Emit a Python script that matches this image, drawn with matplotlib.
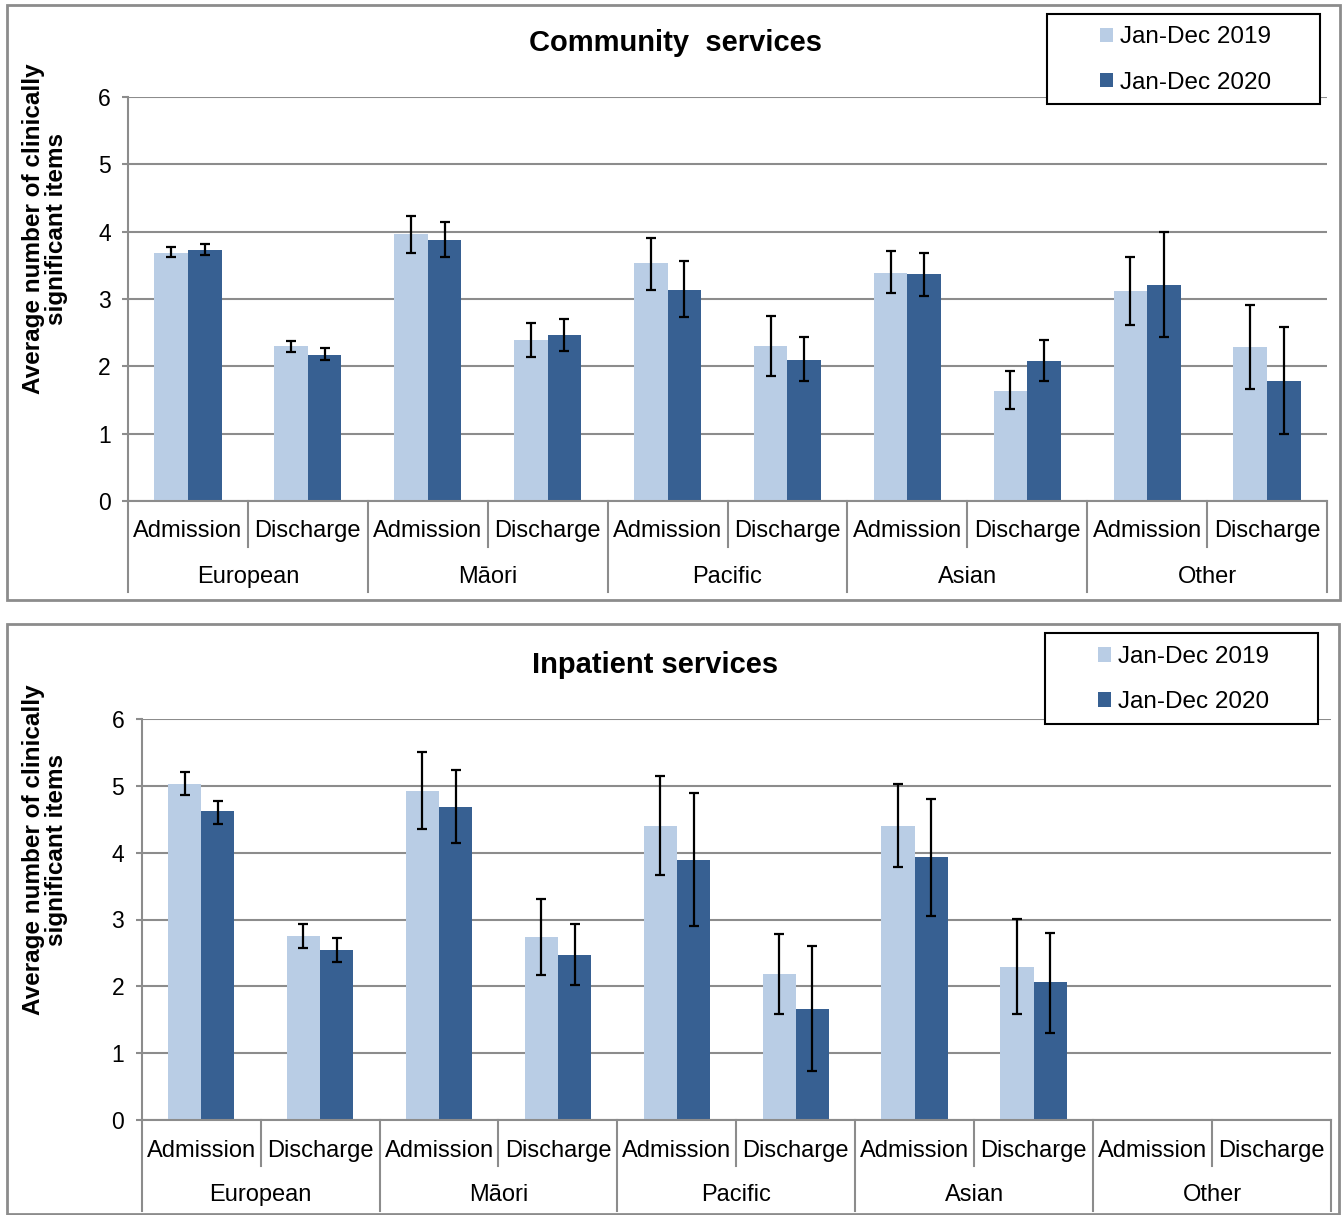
import numpy as np
import matplotlib
matplotlib.use("Agg")
import matplotlib.pyplot as plt
from matplotlib.patches import Rectangle, Patch
from matplotlib.lines import Line2D
from matplotlib import transforms

plt.rcParams['font.family'] = ['Liberation Sans', 'DejaVu Sans']

W, H = 1342, 1215

ethnicities = ["European", "Māori", "Pacific", "Asian", "Other"]
stages = ["Admission", "Discharge"]
series_labels = ["Jan-Dec 2019", "Jan-Dec 2020"]

# Community services: mean and CI bounds, order European Adm/Dis, Māori Adm/Dis ...
community_2019 = [3.69, 2.30, 3.96, 2.39, 3.53, 2.30, 3.39, 1.63, 3.12, 2.28]
community_2019_lo = [3.62, 2.22, 3.69, 2.14, 3.14, 1.85, 3.09, 1.37, 2.61, 1.66]
community_2019_hi = [3.77, 2.37, 4.24, 2.64, 3.91, 2.75, 3.71, 1.93, 3.62, 2.91]
community_2020 = [3.73, 2.17, 3.87, 2.46, 3.14, 2.10, 3.37, 2.08, 3.21, 1.78]
community_2020_lo = [3.65, 2.10, 3.62, 2.23, 2.74, 1.78, 3.05, 1.78, 2.43, 1.00]
community_2020_hi = [3.82, 2.27, 4.15, 2.70, 3.56, 2.43, 3.68, 2.39, 3.99, 2.58]

# Inpatient services (no data for Other)
nan = np.nan
inpatient_2019 = [5.03, 2.75, 4.92, 2.74, 4.40, 2.18, 4.40, 2.29, nan, nan]
inpatient_2019_lo = [4.86, 2.58, 4.35, 2.17, 3.66, 1.59, 3.79, 1.59, nan, nan]
inpatient_2019_hi = [5.21, 2.93, 5.50, 3.30, 5.14, 2.78, 5.03, 3.01, nan, nan]
inpatient_2020 = [4.62, 2.54, 4.69, 2.47, 3.89, 1.66, 3.93, 2.06, nan, nan]
inpatient_2020_lo = [4.43, 2.37, 4.15, 2.02, 2.90, 0.73, 3.05, 1.30, nan, nan]
inpatient_2020_hi = [4.78, 2.72, 5.23, 2.94, 4.89, 2.61, 4.80, 2.80, nan, nan]

LIGHT = "#B9CDE5"
DARK = "#376092"
GREY = "#8C8C8C"


def fx(px):
    return px / W


def fy(py):
    return 1 - py / H


def panel_frame(fig, x0, y0, x1, y1):
    fig.patches.append(Rectangle((fx(x0), fy(y1)), fx(x1 - x0), (y1 - y0) / H,
                                 transform=fig.transFigure, fill=False,
                                 edgecolor=GREY, linewidth=2, zorder=0))


def legend_box(fig, x0, y0, x1, y1):
    fig.patches.append(Rectangle((fx(x0), fy(y1)), fx(x1 - x0), (y1 - y0) / H,
                                 transform=fig.transFigure, facecolor="white",
                                 edgecolor="black", linewidth=1.5, zorder=5))
    handles = [Patch(facecolor=LIGHT, edgecolor="none"),
               Patch(facecolor=DARK, edgecolor="none")]
    leg = fig.legend(handles, series_labels, loc="center",
                     bbox_to_anchor=(fx((x0 + x1) / 2 + 2), fy((y0 + y1) / 2 + 1)),
                     frameon=False, fontsize=17.5, handlelength=0.55,
                     handleheight=0.55, handletextpad=0.3, labelspacing=0.95)
    leg.set_zorder(6)


def draw_panel(fig, box, title, title_x, v19, lo19, hi19, v20, lo20, hi20,
               label_rows, sep_ends, legend_rect):
    left, top, right, bottom = box
    ax = fig.add_axes([fx(left), fy(bottom), fx(right - left), (bottom - top) / H])
    x = np.arange(10)
    w = 0.28
    v19 = np.array(v19)
    v20 = np.array(v20)
    err19 = [v19 - np.array(lo19), np.array(hi19) - v19]
    err20 = [v20 - np.array(lo20), np.array(hi20) - v20]
    ax.bar(x - w / 2, v19, w, color=LIGHT, zorder=2)
    ax.bar(x + w / 2, v20, w, color=DARK, zorder=2)
    for xs, v, e in [(x - w / 2, v19, err19), (x + w / 2, v20, err20)]:
        ax.errorbar(xs, v, yerr=e, fmt="none", ecolor="black", elinewidth=1.6,
                    capsize=3.8, capthick=1.6, zorder=3)

    ax.set_xlim(-0.5, 9.5)
    ax.set_ylim(0, 6)
    ax.set_yticks(range(7))
    ax.set_xticks([])
    ax.yaxis.grid(True, color=GREY, linewidth=1.5, zorder=0)
    ax.set_axisbelow(True)
    for s in ["top", "right"]:
        ax.spines[s].set_visible(False)
    for s in ["left", "bottom"]:
        ax.spines[s].set_color(GREY)
        ax.spines[s].set_linewidth(1.5)
    ax.tick_params(axis="y", direction="out", length=4.5, width=1.5, color=GREY,
                   labelsize=16.5, pad=8)

    # two-level category axis
    trans = transforms.blended_transform_factory(ax.transData, fig.transFigure)
    stage_y, group_y = label_rows
    inner_end, outer_end = sep_ends
    for i in range(10):
        ax.text(i, fy(stage_y), stages[i % 2], transform=trans, ha="center",
                va="center", fontsize=17)
    for g, name in enumerate(ethnicities):
        ax.text(2 * g + 0.5, fy(group_y), name, transform=trans, ha="center",
                va="center", fontsize=17)
    for k in range(11):
        xk = k - 0.5
        end = outer_end if k % 2 == 0 else inner_end
        ax.add_line(Line2D([xk, xk], [fy(bottom), fy(end)], transform=trans,
                           color=GREY, linewidth=1.5, clip_on=False))

    fig.text(fx(title_x), fy(top - 54), title, ha="center", va="center",
             fontsize=21, fontweight="bold")
    fig.text(fx(45), fy((top + bottom) / 2 - 70),
             "Average number of clinically\nsignificant items", rotation=90,
             ha="center", va="center", multialignment="center",
             fontsize=17.5, fontweight="bold", linespacing=0.95)
    legend_box(fig, *legend_rect)
    return ax


fig = plt.figure(figsize=(W / 100, H / 100), dpi=100)

panel_frame(fig, 7, 5, 1340, 600)
panel_frame(fig, 7, 624, 1339, 1214)

draw_panel(fig, (128, 97, 1327, 501), "Community  services", 675,
           community_2019, community_2019_lo, community_2019_hi,
           community_2020, community_2020_lo, community_2020_hi,
           (531, 577), (547, 592), (1047, 14, 1320, 104))

draw_panel(fig, (141.7, 719, 1331, 1120), "Inpatient services", 655,
           inpatient_2019, inpatient_2019_lo, inpatient_2019_hi,
           inpatient_2020, inpatient_2020_lo, inpatient_2020_hi,
           (1151, 1195), (1166, 1211), (1045, 633, 1318, 724))

fig.savefig("out.png", dpi=100)
